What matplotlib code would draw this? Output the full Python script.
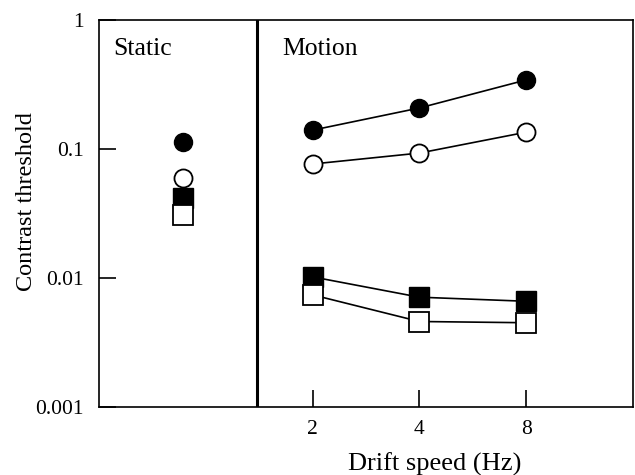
import matplotlib.pyplot as plt
import numpy as np

# data
speeds = [2, 4, 8]
static_x = 0.86  # position of the static column (no drift)

static_filled_circle = 0.113
static_open_circle = 0.060
static_filled_square = 0.042
static_open_square = 0.031

filled_circle = [0.140, 0.208, 0.343]
open_circle = [0.0765, 0.093, 0.135]
filled_square = [0.0102, 0.0071, 0.0066]
open_square = [0.0074, 0.0046, 0.0045]

divider_x = 1.39

plt.rcParams['font.family'] = ['Liberation Serif', 'DejaVu Serif']
plt.rcParams['font.size'] = 15.5

fig = plt.figure(figsize=(6.35, 4.75), dpi=100)
ax = fig.add_axes([99 / 635, 1 - 407 / 475, (633 - 99) / 635, (407 - 20) / 475])

ms_c = 13
ms_s = 14
lw = 1.2

ax.plot(speeds, filled_circle, '-o', color='k', mfc='k', mec='k', ms=ms_c, lw=lw, zorder=3)
ax.plot(speeds, open_circle, '-o', color='k', mfc='white', mec='k', mew=1.3, ms=ms_c, lw=lw, zorder=3)
ax.plot(speeds, filled_square, '-s', color='k', mfc='k', mec='k', ms=ms_s, lw=lw, zorder=3)
ax.plot(speeds, open_square, '-s', color='k', mfc='white', mec='k', mew=1.3, ms=ms_s, lw=lw, zorder=4)

ax.plot([static_x], [static_filled_circle], 'o', color='k', ms=ms_c, zorder=3)
ax.plot([static_x], [static_open_circle], 'o', mfc='white', mec='k', mew=1.3, ms=ms_c, zorder=3)
ax.plot([static_x], [static_filled_square], 's', color='k', ms=ms_s, zorder=3)
ax.plot([static_x], [static_open_square], 's', mfc='white', mec='k', mew=1.3, ms=ms_s, zorder=4)

ax.axvline(divider_x, color='k', lw=2.2)

ax.set_xscale('log', base=2)
ax.set_yscale('log')
ax.set_xlim(0.5, 16)
ax.set_ylim(0.001, 1)

ax.set_xticks(speeds)
ax.set_xticklabels(['2', '4', '8'])
ax.set_yticks([0.001, 0.01, 0.1, 1])
ax.set_yticklabels(['0.001', '0.01', '0.1', '1'])
ax.minorticks_off()
ax.tick_params(axis='both', direction='in', length=12, width=1.2, color='k')
ax.tick_params(axis='y', pad=11)
ax.tick_params(axis='x', pad=9)

for s in ax.spines.values():
    s.set_linewidth(1.2)

ax.text(0.547, 0.6, 'Static', fontsize=18.5, va='center', ha='left')
ax.text(1.647, 0.6, 'Motion', fontsize=18.5, va='center', ha='left')

ax.set_xlabel('Drift speed (Hz)', fontsize=19)
ax.set_ylabel('Contrast threshold', fontsize=17.5)
ax.xaxis.set_label_coords(0.628, -0.118)
ax.yaxis.set_label_coords(-0.116, 0.532)

fig.savefig('out.png', dpi=100)
